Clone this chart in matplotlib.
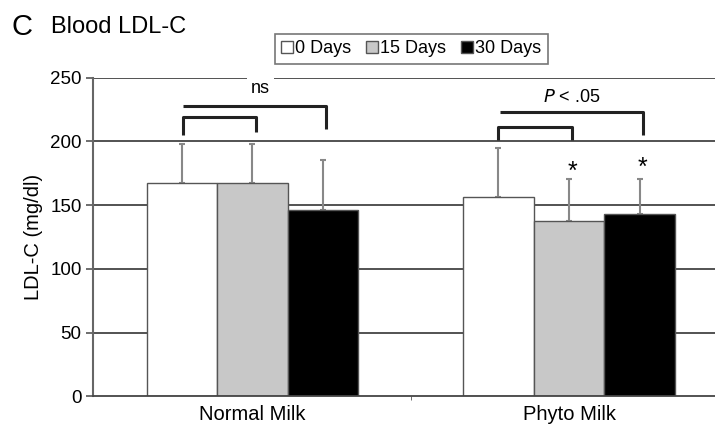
import matplotlib
matplotlib.use("Agg")
import matplotlib.pyplot as plt
from matplotlib.patches import Patch
import numpy as np

plt.rcParams['font.family'] = ['Liberation Sans', 'DejaVu Sans']

groups = ["Normal Milk", "Phyto Milk"]
series = ["0 Days", "15 Days", "30 Days"]
means = {
    "0 Days":  [167.5, 156.7],
    "15 Days": [167.5, 138.0],
    "30 Days": [146.3, 143.2],
}
sds = {
    "0 Days":  [30.5, 38.3],
    "15 Days": [30.5, 32.6],
    "30 Days": [39.2, 27.4],
}
colors = ["#ffffff", "#c8c8c8", "#000000"]
yticks = [0, 50, 100, 150, 200, 250]

fig = plt.figure(figsize=(7.15, 4.28), dpi=100)
ax = fig.add_axes([0.1297, 0.0736, 0.8703, 0.7449])

x = np.arange(len(groups))
w = 0.2227
offsets = [-w, 0, w]

for yv in yticks[1:]:
    ax.axhline(yv, color="#444444", lw=1.3, zorder=0)

for s, c, off in zip(series, colors, offsets):
    ax.bar(x + off, means[s], width=w, color=c, edgecolor="#555555", lw=1.0, zorder=2)
    ax.errorbar(x + off, means[s], yerr=[np.zeros(len(groups)), sds[s]], fmt="none",
                ecolor="#888888", elinewidth=1.5, capsize=2.5, capthick=1.5, zorder=1)

ax.set_xlim(-0.504, 1.461)
ax.set_ylim(0, 250)
ax.set_yticks(yticks)
ax.set_xticks(x)
ax.set_xticklabels(groups, fontsize=14.5)
ax.set_xticks([0.5], minor=True)
ax.tick_params(axis="x", which="major", length=0, pad=6)
ax.tick_params(axis="x", which="minor", length=3, color="#555555")
ax.tick_params(axis="y", length=5, width=1.2, color="#555555", labelsize=13.5, pad=3)
for sp in ["top", "right"]:
    ax.spines[sp].set_visible(False)
ax.spines["left"].set_color("#666666")
ax.spines["left"].set_linewidth(1.5)
ax.spines["bottom"].set_color("#444444")
ax.spines["bottom"].set_linewidth(1.3)
ax.set_ylabel("LDL-C (mg/dl)", fontsize=14.5, labelpad=5)

def bracket(x0, x1, ytop, yl, yr, left_leg=True):
    xs, ys = [], []
    if left_leg:
        xs += [x0]; ys += [yl]
    xs += [x0, x1, x1]; ys += [ytop, ytop, yr]
    ax.plot(xs, ys, color="#222222", lw=2.2, solid_capstyle="butt", zorder=3, clip_on=False)

# Normal Milk brackets
bracket(x[0] + offsets[0] + 0.005, x[0] + offsets[1] + 0.01, 218.8, 205, 207.5)
bracket(x[0] + offsets[0] + 0.005, x[0] + offsets[2] + 0.01, 227.7, 227.7, 210, left_leg=False)
ax.text(x[0] + 0.025, 241.5, "ns", ha="center", va="center", fontsize=13, zorder=4,
        bbox=dict(facecolor="white", edgecolor="none", pad=3))
# Phyto Milk brackets
bracket(x[1] + offsets[0], x[1] + offsets[1] + 0.01, 211, 201, 201)
bracket(x[1] + offsets[0] + 0.005, x[1] + offsets[2] + 0.01, 222.7, 222.7, 205, left_leg=False)
ax.text(x[1] + 0.01, 234.5, "$\\it{P}$ < .05", ha="center", va="center", fontsize=13, zorder=4)

for off, yv in zip(offsets[1:], [176.5, 179.0]):
    ax.text(x[1] + off + 0.01, yv, "*", ha="center", va="center", fontsize=18, zorder=4)

fig.text(0.016, 0.937, "C", fontsize=21, va="center", ha="left")
fig.text(0.071, 0.937, "Blood LDL-C", fontsize=17, va="center", ha="left")

handles = [Patch(facecolor=c, edgecolor="#555555", lw=1.0) for c in colors]
leg = fig.legend(handles, series, loc="center", bbox_to_anchor=(0.575, 0.886), ncol=3,
                 fontsize=13, frameon=True, fancybox=False, handlelength=0.65,
                 handleheight=0.65, handletextpad=0.15, columnspacing=0.8,
                 borderpad=0.35, borderaxespad=0)
leg.get_frame().set_edgecolor("#555555")
leg.get_frame().set_linewidth(1.2)

fig.savefig("out.png", dpi=100)
